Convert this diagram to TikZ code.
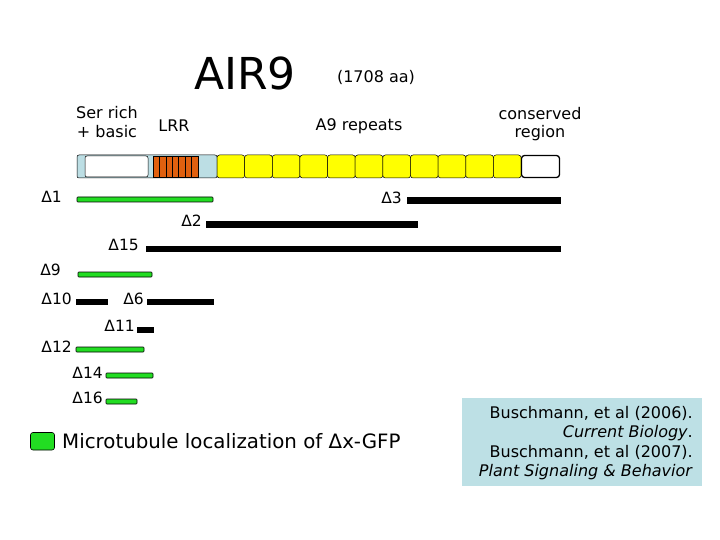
\documentclass[tikz,border=0pt]{standalone}
\usepackage{fontspec}
\setmainfont{DejaVu Sans}
\definecolor{ltblue}{HTML}{BCDEE4}
\definecolor{citeblue}{HTML}{BDE0E5}
\definecolor{lrrorange}{HTML}{E0600F}
\definecolor{gfpgreen}{HTML}{22DD22}
\definecolor{repyellow}{HTML}{FFFF00}
\tikzset{
  lbl/.style={inner sep=0pt, font=\fontsize{16}{18.5}\selectfont},
  dlbl/.style={inner sep=0pt, anchor=east, font=\fontsize{15.5}{18}\selectfont},
  gbar/.style={fill=gfpgreen, draw=black, line width=0.6pt, rounded corners=0.8pt},
  kbar/.style={fill=black},
  repeatbox/.style={fill=repyellow, draw=black, line width=0.5pt, rounded corners=2.5pt},
  stripe/.style={fill=lrrorange, draw=black, line width=0.5pt},
}
\begin{document}
\begin{tikzpicture}[x=1pt,y=-1pt]
\useasboundingbox (0,0) rectangle (720,540);
\fill[white] (0,0) rectangle (720,540);
% titles
\node[inner sep=0pt, font=\fontsize{44}{48}\selectfont] (title) at (245,73) {AIR9};
\node[inner sep=0pt, font=\fontsize{16}{18}\selectfont] (len) at (376,77) {(1708 aa)};
\node[lbl, align=center] (ser) at (107,122) {Ser rich\\+ basic};
\node[lbl] (lrr) at (174,126) {LRR};
\node[lbl] (rep) at (359,126) {A9 repeats};
\node[lbl, align=center] (cons) at (540,124) {conserved\\region};
% protein bar
\draw[fill=ltblue, line width=0.5pt, rounded corners=2pt] (77,155) rectangle (217,178);
\draw[fill=white, line width=0.5pt, rounded corners=2pt] (85,156) rectangle (148,177);
\foreach \i in {0,...,6} {
  \draw[stripe] ({153+\i*6.43},156) rectangle ({153+(\i+1)*6.43},177);
}
\foreach \i in {0,...,10} {
  \draw[repeatbox] ({217+\i*27.64},155) rectangle ({217+(\i+1)*27.64},178);
}
\draw[fill=white, line width=1.3pt, rounded corners=3pt] (521.5,155.5) rectangle (559.5,177.5);
% deletion constructs
\node[dlbl] (d1) at (62,197) {Δ1};
\draw[gbar] (77,197) rectangle (213,202);
\node[dlbl] (d3) at (402,198) {Δ3};
\draw[kbar] (407,197) rectangle (560,203);
\node[dlbl] (d2) at (202,221) {Δ2};
\draw[kbar] (206,221) rectangle (417,227);
\node[dlbl] (d15) at (139,245) {Δ15};
\draw[kbar] (146,246) rectangle (560,251);
\node[dlbl] (d9) at (61,270) {Δ9};
\draw[gbar] (78,272) rectangle (152,277);
\node[dlbl] (d10) at (72,299) {Δ10};
\draw[kbar] (76,299) rectangle (107,304);
\node[dlbl] (d6) at (144,299) {Δ6};
\draw[kbar] (147,299) rectangle (213,304);
\node[dlbl] (d11) at (135,326) {Δ11};
\draw[kbar] (137,327) rectangle (153,332);
\node[dlbl] (d12) at (72,347) {Δ12};
\draw[gbar] (76,347) rectangle (144,352);
\node[dlbl] (d14) at (103,373) {Δ14};
\draw[gbar] (106,373) rectangle (153,378);
\node[dlbl] (d16) at (103,398) {Δ16};
\draw[gbar] (106,399) rectangle (137,404);
% legend
\draw[fill=gfpgreen, draw=black, line width=0.6pt, rounded corners=2.5pt] (30.5,432.5) rectangle (54.5,450);
\node[inner sep=0pt, anchor=west, font=\fontsize{19.8}{22}\selectfont] (leg) at (62,441) {Microtubule localization of Δx-GFP};
% citation
\fill[citeblue] (462,398) rectangle (702,486);
\node[inner sep=0pt, anchor=east, align=right, font=\fontsize{16}{19.5}\selectfont] (cite) at (693,443) {Buschmann, et al (2006).\\\textit{Current Biology}.\\Buschmann, et al (2007).\\\textit{Plant Signaling \& Behavior}};
\end{tikzpicture}
\end{document}
